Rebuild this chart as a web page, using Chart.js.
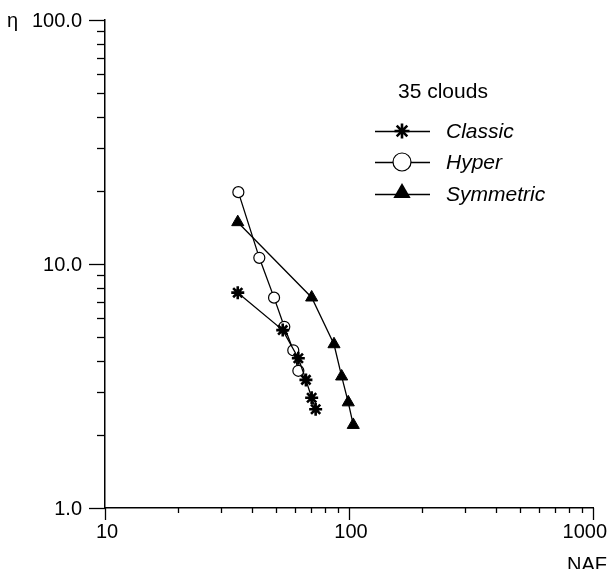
<!DOCTYPE html>
<html>
<head>
<meta charset="utf-8">
<script src="https://cdn.jsdelivr.net/npm/chart.js@4/dist/chart.umd.min.js"></script>
<style>
  html, body { margin: 0; padding: 0; background: #fff; overflow: hidden; }
  canvas { display: block; }
</style>
</head>
<body>
<canvas id="nafChart" width="607" height="569"></canvas>
<script>
// values (NAF on x, eta on y, both log)
const nafClassic = [35.0, 53.5, 62.0, 66.6, 70.3, 73.0];
const etaClassic = [7.63, 5.36, 4.11, 3.35, 2.83, 2.54];
const nafHyper = [35.2, 42.9, 49.3, 54.3, 59.1, 62.0];
const etaHyper = [19.7, 10.6, 7.28, 5.53, 4.43, 3.65];
const nafSym = [35.0, 70.3, 86.8, 93.3, 99.3, 104.1];
const etaSym = [14.84, 7.29, 4.69, 3.46, 2.71, 2.19];

const xTickLabels = ["10", "100", "1000"];
const yTickLabels = ["1.0", "10.0", "100.0"];
const seriesNames = ["Classic", "Hyper", "Symmetric"];
const legendTitle = "35 clouds";

const FONT = "Liberation Sans, Arial, sans-serif";

function pts(xs, ys) {
  return xs.map((x, i) => ({ x: x, y: ys[i] }));
}

const styles = [
  { pointStyle: "star", radius: 6.5, borderWidth: 2.6, fill: "#000" },
  { pointStyle: "circle", radius: 5.5, borderWidth: 1.2, fill: "#fff" },
  { pointStyle: "triangle", radius: 7, borderWidth: 1, fill: "#000" },
];

const seriesData = [pts(nafClassic, etaClassic), pts(nafHyper, etaHyper), pts(nafSym, etaSym)];

const datasets = seriesData.map((d, i) => ({
  label: seriesNames[i],
  data: d,
  borderColor: "#000",
  borderWidth: 1.3,
  pointStyle: styles[i].pointStyle,
  pointRadius: styles[i].radius,
  pointBorderWidth: styles[i].borderWidth,
  pointBackgroundColor: styles[i].fill,
  pointBorderColor: "#000",
  showLine: true,
  tension: 0,
}));

// legend marker, drawn by hand
function marker(ctx, kind, x, y, r) {
  ctx.beginPath();
  if (kind === "circle") {
    ctx.arc(x, y, r, 0, Math.PI * 2);
    ctx.fillStyle = "#fff";
    ctx.fill();
    ctx.lineWidth = 1.2;
    ctx.stroke();
  } else if (kind === "triangle") {
    ctx.moveTo(x, y - r);
    ctx.lineTo(x + r * 0.866, y + r * 0.5);
    ctx.lineTo(x - r * 0.866, y + r * 0.5);
    ctx.closePath();
    ctx.fillStyle = "#000";
    ctx.fill();
  } else {
    ctx.lineWidth = 2.6;
    for (let k = 0; k < 4; k++) {
      const a = (k * Math.PI) / 4;
      ctx.moveTo(x - Math.cos(a) * r, y - Math.sin(a) * r);
      ctx.lineTo(x + Math.cos(a) * r, y + Math.sin(a) * r);
    }
    ctx.stroke();
  }
}

// tick marks, tick labels, axis names and the legend box
const decorations = {
  id: "decorations",
  afterDraw(chart) {
    const ctx = chart.ctx;
    const xs = chart.scales.x;
    const ys = chart.scales.y;
    const area = chart.chartArea;
    ctx.save();
    ctx.strokeStyle = "#000";
    ctx.fillStyle = "#000";
    ctx.lineWidth = 1.3;

    // x ticks
    for (let dec = 10; dec <= 1000; dec *= 10) {
      for (let m = 1; m <= 9; m++) {
        const v = dec * m;
        if (v > 1000) break;
        const px = Math.round(xs.getPixelForValue(v)) + 0.5;
        const len = m === 1 ? 12 : 5;
        ctx.beginPath();
        ctx.moveTo(px, area.bottom);
        ctx.lineTo(px, area.bottom + len);
        ctx.stroke();
      }
    }
    // y ticks
    for (let dec = 1; dec <= 100; dec *= 10) {
      for (let m = 1; m <= 9; m++) {
        const v = dec * m;
        if (v > 100) break;
        const py = Math.round(ys.getPixelForValue(v)) + 0.5;
        const len = m === 1 ? 16 : 8;
        ctx.beginPath();
        ctx.moveTo(area.left, py);
        ctx.lineTo(area.left - len, py);
        ctx.stroke();
      }
    }

    ctx.font = "20px " + FONT;
    ctx.textBaseline = "alphabetic";
    ctx.textAlign = "center";
    xTickLabels.forEach((t) => {
      const w = ctx.measureText(t).width;
      let cx = xs.getPixelForValue(Number(t)) + 2;
      cx = Math.min(cx, chart.width - w / 2);
      ctx.fillText(t, cx, area.bottom + 30);
    });
    ctx.textAlign = "right";
    yTickLabels.forEach((t) => {
      ctx.fillText(t, area.left - 23, ys.getPixelForValue(Number(t)) + 7);
    });
    ctx.textAlign = "left";
    ctx.fillText("η", 7, 27);
    ctx.textAlign = "right";
    ctx.fillText("NAF", chart.width, 571);

    // legend
    ctx.textAlign = "left";
    ctx.font = "21px " + FONT;
    ctx.fillText(legendTitle, 398, 98);
    const rows = [131, 162, 194];
    const kinds = ["star", "circle", "triangle"];
    const sizes = [7.5, 9, 10];
    ctx.font = "italic 21px " + FONT;
    seriesNames.forEach((name, i) => {
      const y = rows[i];
      ctx.lineWidth = 1.3;
      ctx.strokeStyle = "#000";
      ctx.beginPath();
      ctx.moveTo(375, y + 0.5);
      ctx.lineTo(430, y + 0.5);
      ctx.stroke();
      marker(ctx, kinds[i], 402, i === 2 ? y - 1 : y, sizes[i]);
      ctx.fillStyle = "#000";
      ctx.fillText(name, 446, y + 7);
    });
    ctx.restore();
  },
};

new Chart(document.getElementById("nafChart"), {
  type: "scatter",
  data: { datasets: datasets },
  plugins: [decorations],
  options: {
    responsive: false,
    animation: false,
    devicePixelRatio: 1,
    layout: { padding: { left: 97, right: 14, top: 20, bottom: 53 } },
    plugins: { legend: { display: false }, tooltip: { enabled: false } },
    scales: {
      x: {
        type: "logarithmic",
        min: 10,
        max: 1000,
        ticks: { display: false },
        grid: { display: false },
        border: { display: true, color: "#000", width: 1.5 },
      },
      y: {
        type: "logarithmic",
        min: 1,
        max: 100,
        ticks: { display: false },
        grid: { display: false },
        border: { display: true, color: "#000", width: 1.5 },
      },
    },
  },
});
</script>
</body>
</html>
